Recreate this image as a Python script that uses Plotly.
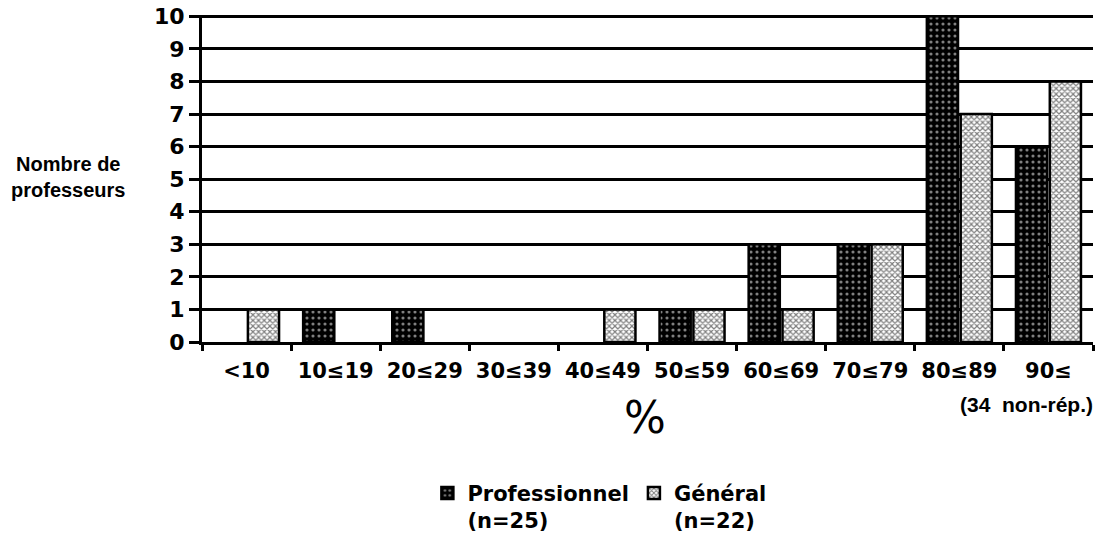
import plotly.graph_objects as go

categories = ["<10", "10≤19", "20≤29", "30≤39", "40≤49", "50≤59", "60≤69", "70≤79", "80≤89", "90≤"]
professionnel = [0, 1, 1, 0, 0, 1, 3, 3, 10, 6]
general = [1, 0, 0, 0, 1, 1, 1, 3, 7, 8]
y_ticks = list(range(0, 11))


def nz(vals):
    return [v if v else None for v in vals]


fig = go.Figure()
fig.add_trace(go.Bar(
    x=categories, y=nz(professionnel), name="Professionnel<br>(n=25)",
    marker=dict(color="black", line=dict(color="black", width=2.5),
                pattern=dict(shape=".", bgcolor="black", fgcolor="white", size=6, solidity=0.22, fillmode="overlay")),
))
fig.add_trace(go.Bar(
    x=categories, y=nz(general), name="Général<br>(n=22)",
    marker=dict(color="white", line=dict(color="black", width=2.5),
                pattern=dict(shape="x", bgcolor="white", fgcolor="black", size=4, solidity=0.5, fillmode="overlay")),
))

fig.update_layout(
    width=1105, height=534,
    margin=dict(l=202, r=12, t=15, b=192, autoexpand=False),
    paper_bgcolor="white", plot_bgcolor="white",
    barmode="group", bargap=0.24, bargroupgap=0.08,
    showlegend=True,
    legend=dict(orientation="h", x=0.446, xanchor="center", y=-0.40, yanchor="top",
                font=dict(family="DejaVu Sans", size=21, color="black", weight="bold"),
                valign="top", traceorder="normal", itemwidth=30),
    font=dict(family="DejaVu Sans", color="black"),
)
fig.update_xaxes(
    type="category", range=[-0.5, 9.5], automargin=False,
    showline=True, linecolor="black", linewidth=3,
    ticks="outside", tickson="boundaries", ticklen=6, tickwidth=3, tickcolor="black",
    tickfont=dict(family="DejaVu Sans", size=21, color="black", weight="bold"),
    showgrid=False, ticklabelstandoff=8,
)
fig.update_yaxes(
    range=[0, 10.04], tickvals=y_ticks, ticktext=[str(v) for v in y_ticks], automargin=False,
    showline=True, linecolor="black", linewidth=3,
    ticks="outside", ticklen=10, tickwidth=3, tickcolor="black",
    tickfont=dict(family="DejaVu Sans", size=22, color="black", weight="bold"),
    showgrid=True, gridcolor="black", gridwidth=3, zeroline=False,
    ticklabelstandoff=0, ticklabeloverflow="allow",
)

fig.add_annotation(xref="paper", yref="paper", x=-0.150, y=0.506, xanchor="center", yanchor="middle",
                   showarrow=False, text="Nombre de<br>professeurs", align="center",
                   font=dict(family="Liberation Sans", size=20, color="black", weight="bold"))
fig.add_annotation(xref="paper", yref="paper", x=0.497, y=-0.23, xanchor="center", yanchor="middle",
                   showarrow=False, text="%", font=dict(family="DejaVu Sans", size=44, color="black"))
fig.add_annotation(xref="paper", yref="paper", x=0.925, y=-0.19, xanchor="center", yanchor="middle",
                   showarrow=False, text="(34\u00a0 non-rép.)",
                   font=dict(family="Liberation Sans", size=21, color="black", weight="bold"))

# remove the page's default body margin so the figure fills the window exactly
fig.write_html("out.html", config={"displayModeBar": False},
               post_script="document.body.style.margin='0';")
